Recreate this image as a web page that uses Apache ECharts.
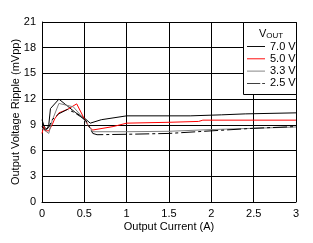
<!DOCTYPE html>
<html>
<head>
<meta charset="utf-8">
<script src="https://cdn.jsdelivr.net/npm/echarts@6/dist/echarts.min.js"></script>
<style>html,body{margin:0;padding:0;background:#fff}#c{width:313px;height:243px}</style>
</head>
<body>
<div id="c"></div>
<script>
const seriesNames = ['7.0 V', '5.0 V', '3.3 V', '2.5 V'];
const current70 = [0, 0.03, 0.06, 0.08, 0.1, 0.2, 0.3, 0.4, 0.5, 0.57, 0.7, 1.0, 1.75, 1.76, 2.12, 2.13, 2.4, 2.41, 3.0];
const ripple70  = [9.6, 8.7, 8.5, 9.0, 10.9, 12.0, 11.2, 10.4, 9.8, 9.2, 9.6, 10.05, 10.05, 10.17, 10.17, 10.28, 10.28, 10.4, 10.4];
const current50 = [0, 0.02, 0.04, 0.08, 0.12, 0.15, 0.2, 0.3, 0.41, 0.5, 0.56, 0.6, 0.84, 1.0, 1.5, 1.85, 1.9, 3.0];
const ripple50  = [8.0, 8.8, 8.3, 8.3, 9.0, 9.7, 10.4, 10.8, 11.45, 9.7, 8.7, 8.4, 8.8, 9.2, 9.3, 9.4, 9.55, 9.55];
const current33 = [0, 0.04, 0.08, 0.12, 0.2, 0.37, 0.45, 0.52, 0.6, 1.0, 1.5, 2.0, 2.5, 3.0];
const ripple33  = [8.6, 8.3, 8.0, 9.5, 11.5, 11.1, 10.2, 9.3, 8.2, 8.2, 8.25, 8.45, 8.6, 8.75];
const current25 = [0, 0.04, 0.08, 0.12, 0.2, 0.3, 0.37, 0.45, 0.52, 0.6, 0.65, 1.0, 1.5, 2.0, 2.5, 3.0];
const ripple25  = [8.8, 8.4, 8.7, 9.6, 10.3, 10.8, 10.5, 10.0, 9.5, 8.0, 7.85, 7.9, 8.0, 8.3, 8.6, 8.8];
const xTicks = [0, 0.5, 1, 1.5, 2, 2.5, 3];
const yTicks = [0, 3, 6, 9, 12, 15, 18, 21];

const pair = (xs, ys) => xs.map((x, i) => [x, ys[i]]);
const font = 'Liberation Sans, Arial, sans-serif';
const chart = echarts.init(document.getElementById('c'), null, {renderer: 'canvas'});
const mk = (name, xs, ys, color, type) => ({
  name, type: 'line', data: pair(xs, ys), symbol: 'none', smooth: false,
  lineStyle: {color, width: 1, type: type || 'solid'}, itemStyle: {color}, z: 5
});
const solidIcon = 'path://M0,0h19v1h-19z';
const dashIcon = 'path://M0,0h14v1h-14zM16,0h3v1h-3z';
chart.setOption({
  animation: false,
  textStyle: {fontFamily: font},
  grid: {left: 42, right: 17, top: 22, bottom: 41, containLabel: false, outerBoundsMode: 'none'},
  xAxis: {
    type: 'value', min: xTicks[0], max: xTicks[xTicks.length - 1], interval: 0.5,
    name: 'Output Current (A)', nameLocation: 'middle', nameGap: 19, nameMoveOverlap: false,
    nameTextStyle: {color: '#000', fontSize: 11, fontFamily: font},
    axisLine: {show: true, lineStyle: {color: '#000', width: 1}},
    axisTick: {show: false},
    axisLabel: {color: '#000', fontSize: 11, margin: 6, fontFamily: font, showMinLabel: true, showMaxLabel: true},
    splitLine: {show: true, lineStyle: {color: '#000', width: 1}}
  },
  yAxis: {
    type: 'value', min: yTicks[0], max: yTicks[yTicks.length - 1], interval: 3,
    name: 'Output Voltage Ripple (mVpp)', nameLocation: 'middle', nameGap: 21, nameMoveOverlap: false,
    nameTextStyle: {color: '#000', fontSize: 11, fontFamily: font},
    axisLine: {show: true, lineStyle: {color: '#000', width: 1}},
    axisTick: {show: false},
    axisLabel: {color: '#000', fontSize: 11, margin: 6, fontFamily: font},
    splitLine: {show: true, lineStyle: {color: '#000', width: 1}}
  },
  legend: {
    orient: 'vertical', left: 247, top: 41, itemGap: 1.3, itemWidth: 18, itemHeight: 1.2,
    padding: 0, align: 'left', z: 100,
    textStyle: {color: '#000', fontSize: 11, fontFamily: font, padding: [0, 0, 0, 0], lineHeight: 10},
    data: [
      {name: seriesNames[0], icon: solidIcon},
      {name: seriesNames[1], icon: solidIcon},
      {name: seriesNames[2], icon: solidIcon},
      {name: seriesNames[3], icon: dashIcon}
    ]
  },
  graphic: [
    {type: 'rect', left: 243, top: 22, shape: {width: 53, height: 72},
     style: {fill: '#fff', stroke: '#000', lineWidth: 1}, z: 10},
    {type: 'text', left: 259, top: 28, z: 11,
     style: {rich: {a: {fontSize: 11, fill: '#000', fontFamily: font}, b: {fontSize: 8, fill: '#000', fontFamily: font, padding: [4, 0, 0, 0]}},
             text: '{a|V}{b|OUT}'}}
  ],
  series: [
    mk(seriesNames[0], current70, ripple70, '#000'),
    mk(seriesNames[1], current50, ripple50, '#ff0000'),
    mk(seriesNames[2], current33, ripple33, '#808080'),
    mk(seriesNames[3], current25, ripple25, '#000', [14, 3, 3, 3])
  ]
});
</script>
</body>
</html>
